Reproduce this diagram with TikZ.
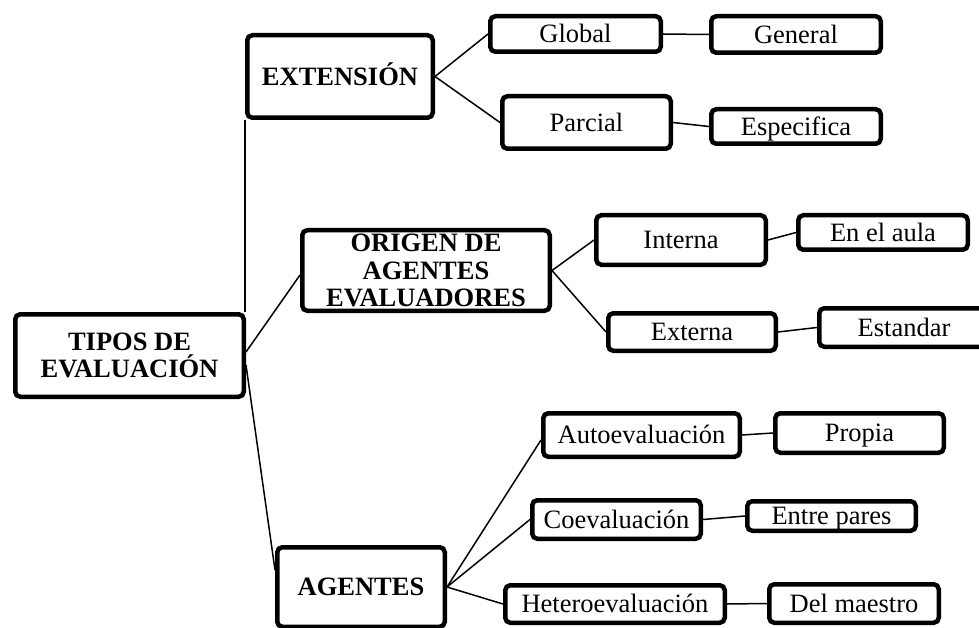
\documentclass[tikz,border=0pt]{standalone}
\usepackage{fontspec}
\setmainfont{Liberation Serif}
\begin{document}
\begin{tikzpicture}[x=1pt,y=-1pt,
  box/.style={draw, line width=4.5pt, rounded corners=5pt, inner sep=0pt,
    font=\fontsize{26.5}{27.5}\selectfont, text height=17.5pt, text depth=0pt},
  bbox/.style={box, font=\fontsize{26.5}{27.5}\selectfont\bfseries},
  mbox/.style={draw, line width=4.5pt, rounded corners=5pt, inner sep=0pt, align=center},
  link/.style={line width=1.5pt}]
\useasboundingbox (0,0) rectangle (979,628);
% main nodes
\node[mbox, font=\fontsize{26.5}{27}\selectfont\bfseries, minimum width=228.5pt, minimum height=82.5pt] (tipos) at (129.5,355.5) {TIPOS DE\\EVALUACIÓN};
\node[bbox, minimum width=185.5pt, minimum height=82.5pt] (ext) at (340,76.5) {EXTENSIÓN};
\node[mbox, font=\fontsize{26.5}{27.5}\selectfont\bfseries, minimum width=247.5pt, minimum height=80.5pt] (orig) at (426,270.5) {ORIGEN DE\\AGENTES\\EVALUADORES};
\node[bbox, minimum width=167.5pt, minimum height=79.5pt] (agen) at (361,587) {AGENTES};
% leaves
\node[box, minimum width=170.5pt, minimum height=35.5pt] (glob) at (575.5,34) {Global};
\node[box, minimum width=169.5pt, minimum height=36.5pt] (gene) at (796,34.5) {General};
\node[box, minimum width=168.5pt, minimum height=52.5pt] (parc) at (586.5,122.5) {Parcial};
\node[box, minimum width=169.5pt, minimum height=34.5pt] (espe) at (796,126.5) {Especifica};
\node[box, minimum width=169.5pt, minimum height=49.5pt] (inte) at (681,240) {Interna};
\node[box, minimum width=169.5pt, minimum height=34.5pt] (aula) at (883,232.5) {En el aula};
\node[box, minimum width=167.5pt, minimum height=37.5pt] (exte) at (692,332) {Externa};
\node[box, minimum width=169.5pt, minimum height=38.5pt] (esta) at (904,327.5) {Estandar};
\node[box, minimum width=196.5pt, minimum height=43.5pt] (auto) at (641.5,435) {Autoevaluación};
\node[box, minimum width=168.5pt, minimum height=39.5pt] (prop) at (859.5,433) {Propia};
\node[box, minimum width=168.5pt, minimum height=38.5pt] (coev) at (616.5,519.5) {Coevaluación};
\node[box, minimum width=168.5pt, minimum height=29.5pt] (pare) at (831.5,516) {Entre pares};
\node[box, minimum width=219.5pt, minimum height=37.5pt] (hete) at (615,604) {Heteroevaluación};
\node[box, minimum width=169.5pt, minimum height=38.5pt] (maes) at (854,603.5) {Del maestro};
% connectors
\draw[link] (ext.south west) -- (ext.south west |- tipos.north);
\draw[link] ([yshift=3.5pt]tipos.east) -- ([yshift=-4.5pt]orig.west);
\draw[link] ([yshift=-9.5pt]tipos.east) -- ([yshift=17pt]agen.west);
\draw[link] (ext.east) -- (glob.west);
\draw[link] (ext.east) -- (parc.west);
\draw[link] (glob.east) -- (gene.west);
\draw[link] (parc.east) -- (espe.west);
\draw[link] (orig.east) -- (inte.west);
\draw[link] (orig.east) -- (exte.west);
\draw[link] (inte.east) -- (aula.west);
\draw[link] (exte.east) -- (esta.west);
\draw[link] (agen.east) -- ([yshift=-5pt]auto.west);
\draw[link] (agen.east) -- (coev.west);
\draw[link] (agen.east) -- (hete.west);
\draw[link] (auto.east) -- (prop.west);
\draw[link] (coev.east) -- (pare.west);
\draw[link] (hete.east) -- (maes.west);
\end{tikzpicture}
\end{document}
